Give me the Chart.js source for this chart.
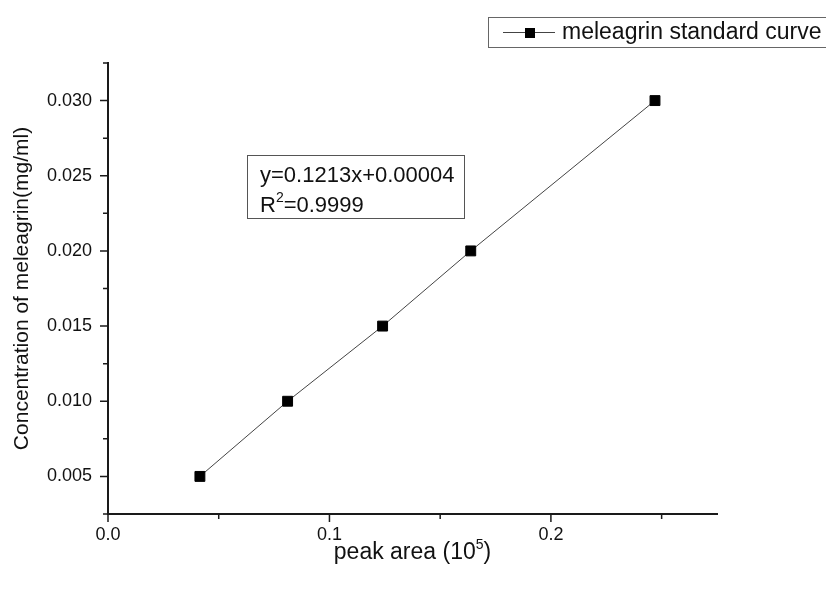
<!DOCTYPE html>
<html>
<head>
<meta charset="utf-8">
<script src="https://cdn.jsdelivr.net/npm/chart.js@4/dist/chart.umd.min.js"></script>
<style>
html,body{margin:0;padding:0;background:#fff;}
#wrap{width:826px;height:589px;position:relative;}
</style>
</head>
<body>
<div id="wrap"><canvas id="c" width="826" height="589"></canvas></div>
<script>
// ---- data ----
const seriesName = 'meleagrin standard curve';
const peakArea = [0.0415, 0.0811, 0.1240, 0.1638, 0.2470];
const concentration = [0.005, 0.010, 0.015, 0.020, 0.030];
const xMajorTicks = [0.0, 0.1, 0.2];
const xMinorTicks = [0.05, 0.15, 0.25];
const yMajorTicks = [0.005, 0.010, 0.015, 0.020, 0.025, 0.030];
const yMinorTicks = [0.0025, 0.0075, 0.0125, 0.0175, 0.0225, 0.0275, 0.0325];
const xTitle = ['peak area (10', '5', ')'];
const yTitle = 'Concentration of meleagrin(mg/ml)';
const fitLine1 = 'y=0.1213x+0.00004';
const fitLine2 = ['R', '2', '=0.9999'];

const FONT = '"Liberation Sans", Arial, sans-serif';
const AXIS = '#1a1a1a';

const decor = {
  id: 'decor',
  afterDraw(chart) {
    const ctx = chart.ctx;
    const xs = chart.scales.x, ys = chart.scales.y;
    const x0 = xs.left, y0 = ys.bottom;
    ctx.save();
    ctx.strokeStyle = AXIS;
    ctx.lineWidth = 1.5;
    ctx.beginPath();
    xMajorTicks.forEach(v => { const p = xs.getPixelForValue(v); ctx.moveTo(p, y0); ctx.lineTo(p, y0 + 8); });
    xMinorTicks.forEach(v => { const p = xs.getPixelForValue(v); ctx.moveTo(p, y0); ctx.lineTo(p, y0 + 5); });
    yMajorTicks.forEach(v => { const p = ys.getPixelForValue(v); ctx.moveTo(x0, p); ctx.lineTo(x0 - 8, p); });
    yMinorTicks.forEach(v => { const p = ys.getPixelForValue(v); ctx.moveTo(x0, p); ctx.lineTo(x0 - 5, p); });
    ctx.stroke();

    // x title with superscript
    ctx.fillStyle = '#111';
    ctx.textBaseline = 'alphabetic';
    ctx.textAlign = 'left';
    ctx.font = '23px ' + FONT;
    const w1 = ctx.measureText(xTitle[0]).width;
    const w3 = ctx.measureText(xTitle[2]).width;
    ctx.font = '14px ' + FONT;
    const w2 = ctx.measureText(xTitle[1]).width;
    const cx = (xs.left + xs.right) / 2;
    let tx = cx - (w1 + w2 + w3) / 2;
    const by = 559;
    ctx.font = '23px ' + FONT;
    ctx.fillText(xTitle[0], tx, by);
    ctx.font = '14px ' + FONT;
    ctx.fillText(xTitle[1], tx + w1, by - 10);
    ctx.font = '23px ' + FONT;
    ctx.fillText(xTitle[2], tx + w1 + w2, by);

    // fit annotation box
    ctx.strokeStyle = '#555';
    ctx.lineWidth = 1;
    ctx.strokeRect(247.5, 155.5, 217, 63);
    ctx.fillStyle = '#111';
    ctx.font = '22px ' + FONT;
    ctx.fillText(fitLine1, 260, 182);
    const rw = ctx.measureText(fitLine2[0]).width;
    ctx.fillText(fitLine2[0], 260, 212);
    ctx.font = '14px ' + FONT;
    const sw = ctx.measureText(fitLine2[1]).width;
    ctx.fillText(fitLine2[1], 260 + rw, 202);
    ctx.font = '22px ' + FONT;
    ctx.fillText(fitLine2[2], 260 + rw + sw, 212);

    // legend box
    ctx.strokeStyle = '#666';
    ctx.strokeRect(488.5, 17.5, 345, 30);
    const ds = chart.data.datasets[0];
    ctx.strokeStyle = ds.borderColor;
    ctx.lineWidth = 1;
    ctx.beginPath(); ctx.moveTo(503, 32.5); ctx.lineTo(555, 32.5); ctx.stroke();
    ctx.fillStyle = '#000';
    ctx.fillRect(525, 28, 10, 10);
    ctx.fillStyle = '#111';
    ctx.font = '23px ' + FONT;
    ctx.textBaseline = 'middle';
    ctx.fillText(seriesName, 562, 33);
    ctx.restore();
  }
};

new Chart(document.getElementById('c'), {
  type: 'scatter',
  data: {
    datasets: [{
      label: seriesName,
      data: peakArea.map((x, i) => ({x: x, y: concentration[i]})),
      showLine: true,
      borderColor: '#444',
      borderWidth: 1,
      pointStyle: 'rect',
      pointRadius: 7,
      pointBackgroundColor: '#000',
      pointBorderColor: '#000',
      pointBorderWidth: 1
    }]
  },
  options: {
    responsive: false,
    animation: false,
    layout: { padding: { top: 63, right: 109, left: 0, bottom: 0 } },
    plugins: { legend: { display: false }, tooltip: { enabled: false } },
    scales: {
      x: {
        type: 'linear', min: 0, max: 0.275,
        afterFit(s) { s.height = 75; },
        afterBuildTicks(s) { s.ticks = xMajorTicks.map(v => ({value: v})); },
        grid: { display: false, drawTicks: false },
        border: { display: true, color: AXIS, width: 2 },
        ticks: { padding: 10, color: '#111', font: { family: FONT, size: 18 }, callback: v => v.toFixed(1) }
      },
      y: {
        type: 'linear', min: 0.0025, max: 0.0325,
        afterFit(s) { s.width = 108; },
        afterBuildTicks(s) { s.ticks = yMajorTicks.map(v => ({value: v})); },
        grid: { display: false, drawTicks: false },
        border: { display: true, color: AXIS, width: 2 },
        ticks: { padding: 16, color: '#111', font: { family: FONT, size: 18 }, callback: v => v.toFixed(3) },
        title: { display: true, text: yTitle, color: '#111', font: { family: FONT, size: 21 }, padding: { top: 10, bottom: 0 } }
      }
    }
  },
  plugins: [decor]
});
</script>
</body>
</html>
